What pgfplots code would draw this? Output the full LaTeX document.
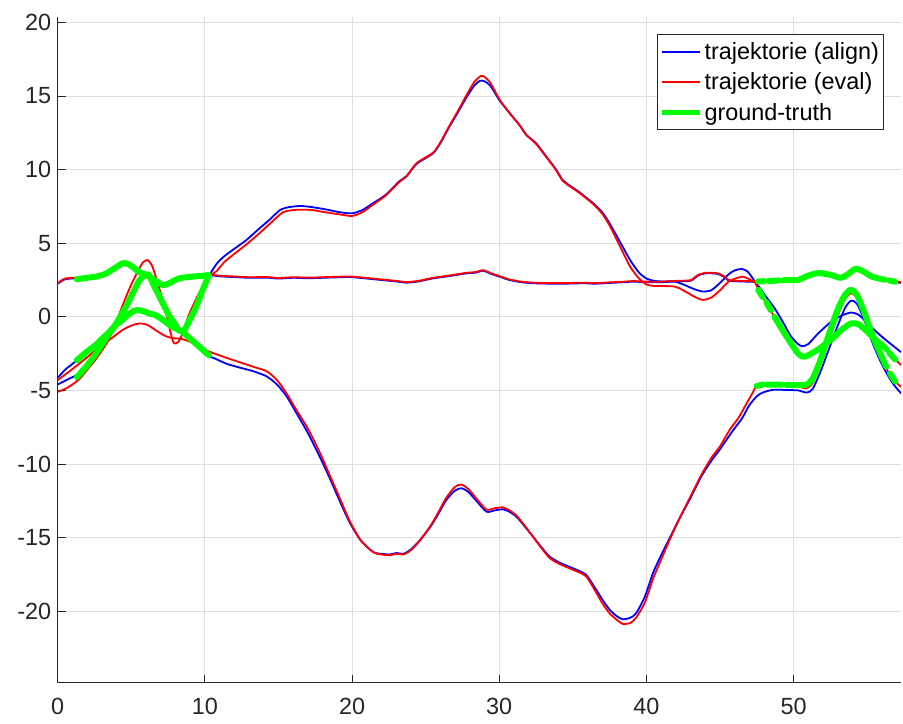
\documentclass[border=0pt]{standalone}
\usepackage{fontspec}
\setmainfont{Liberation Sans}
\usepackage{pgfplots}
\pgfplotsset{compat=1.18}
\definecolor{axgray}{RGB}{38,38,38}
\definecolor{gridgray}{RGB}{223,223,223}
\definecolor{mblue}{RGB}{0,0,255}
\definecolor{mred}{RGB}{255,0,0}
\definecolor{mgreen}{RGB}{0,255,0}
\begin{document}
\begin{tikzpicture}
\useasboundingbox (-57.7bp,-41.3bp) rectangle (845.3bp,682.7bp);
\begin{axis}[
 at={(0,0)}, anchor=south west,
 scale only axis, width=843.3bp, height=666bp,
 xmin=0, xmax=57.3, ymin=-24.86, ymax=20.39,
 enlargelimits=false,
 axis x line=bottom, axis y line=left,
 axis line style={-, draw=axgray, line width=0.8bp},
 xtick={0,10,...,50}, ytick={-20,-15,...,20},
 tick align=inside, major tick length=8bp,
 tick style={draw=axgray, line width=0.8bp},
 grid=major, major grid style={draw=gridgray, line width=0.8bp},
 ticklabel style={font=\fontsize{23.5}{27}\selectfont, text=axgray},
 /pgf/number format/assume math mode=true,
 yticklabel style={xshift=-3bp},
 xticklabel style={yshift=-12bp},
 legend style={at={(0.979,0.974)}, anchor=north east, draw=axgray, line width=0.8bp,
   fill=white, font=\fontsize{23.5}{27}\selectfont, inner xsep=2bp, inner ysep=6bp,
   row sep=8bp, cells={anchor=west}, nodes={inner sep=2bp}, text=black},
 legend image code/.code={\draw[#1] (0bp,0bp) -- (38bp,0bp);},
 unbounded coords=jump,
 every axis plot/.append style={line join=round},
]
\addlegendimage{mblue, line width=1.8bp}
\addlegendentry{trajektorie (align)}
\addlegendimage{mred, line width=1.8bp}
\addlegendentry{trajektorie (eval)}
\addlegendimage{mgreen, line width=5.5bp}
\addlegendentry{ground-truth}
% ---------------- align (blue) ----------------
\addplot[mblue, line width=1.8bp, smooth, tension=0.4, forget plot] coordinates {
(0,-4.6)(0.5,-4.35)(1.0,-4.1)(1.5,-3.85)(2.0,-3.3)(2.5,-2.6)(3.0,-1.85)(3.5,-1.15)(3.9,-0.55)
(4.3,0.2)(4.7,0.95)(5.1,1.8)(5.5,2.45)(5.9,2.85)(6.2,2.8)(6.5,2.2)(6.9,1.4)(7.3,0.6)(7.7,-0.1)
(8.1,-0.75)(8.5,-1.05)(8.8,-0.6)(9.1,0.0)(9.5,0.9)(9.9,1.8)(10.3,2.8)(10.8,3.6)(11.3,4.1)(11.9,4.55)
(12.8,5.2)(13.7,6.0)(14.4,6.6)(15.1,7.25)(15.7,7.45)(16.5,7.53)(17.3,7.45)(18.2,7.3)(19.2,7.1)
(20.0,7.03)(20.7,7.25)(21.4,7.7)(22.3,8.3)(23.2,9.2)(23.7,9.55)(24.4,10.4)(25.5,11.1)(26.0,11.8)
(26.6,12.9)(27.2,13.9)(27.8,14.95)(28.3,15.7)(28.7,16.04)(29.0,16.0)(29.4,15.7)(30.0,14.73)
(30.5,14.1)(30.9,13.6)(31.4,13.0)(31.85,12.35)(32.5,11.8)(33.2,10.88)(33.8,10.1)(34.3,9.3)
(34.6,9.05)(35.4,8.5)(36.4,7.7)(37.0,7.1)(37.5,6.35)(38.2,5.1)(38.9,3.85)(39.5,3.0)(40.0,2.6)
(40.5,2.45)(41.0,2.4)(41.9,2.4)(42.5,2.2)(43.2,1.9)(43.8,1.72)(44.4,1.8)(45.0,2.3)(45.6,2.9)
(46.0,3.15)(46.5,3.25)(46.9,3.05)(47.3,2.5)(47.6,2.1)(48.1,1.4)(48.7,0.6)(49.3,-0.4)(49.8,-1.3)
(50.3,-1.85)(50.6,-2.0)(51.0,-1.85)(51.7,-1.1)(52.6,-0.3)(53.3,0.1)(53.9,0.29)(54.4,0.15)
(55.0,-0.4)(55.6,-1.0)(56.3,-1.6)(57.3,-2.4)};
\addplot[mblue, line width=1.8bp, smooth, tension=0.4, forget plot] coordinates {
(0,2.25)(0.5,2.55)(1.3,2.62)(2.0,2.65)(2.6,2.75)(3.1,2.9)(3.5,3.05)(4.0,3.4)(4.4,3.63)(4.7,3.7)
(5.07,3.41)(5.4,3.15)(5.75,2.95)(6.1,2.75)(6.42,2.55)(6.8,2.3)(7.1,2.16)(7.55,2.27)(7.9,2.45)
(8.23,2.6)(8.7,2.7)(9.14,2.73)(9.7,2.78)(10.26,2.84)(11,2.75)(12,2.7)(13,2.65)(14.2,2.66)(15,2.6)
(16,2.65)(17,2.62)(18,2.65)(19,2.68)(19.85,2.7)(21,2.6)(22,2.5)(23,2.4)(23.7,2.32)(24.5,2.4)
(25.5,2.61)(26.5,2.75)(27.77,2.95)(28.4,3.0)(28.9,3.13)(29.5,2.9)(30.1,2.7)(30.7,2.5)(31.5,2.35)
(32.3,2.28)(33.5,2.25)(34.5,2.25)(35.7,2.28)(36.5,2.25)(37.5,2.3)(38.5,2.35)(39.1,2.39)(40,2.35)
(41,2.35)(42,2.4)(43,2.45)(43.5,2.8)(44.0,2.95)(44.5,2.95)(44.9,2.9)(45.3,2.7)(45.6,2.45)
(46.5,2.4)(47.4,2.38)(48.5,2.45)(49.5,2.5)(50.3,2.5)(51.0,2.8)(51.7,2.97)(52.5,2.85)(53.2,2.65)
(53.7,2.9)(54.2,3.26)(54.7,3.1)(55.3,2.74)(56.0,2.55)(56.6,2.45)(57.3,2.3)};
\addplot[mblue, line width=1.8bp, smooth, tension=0.4, forget plot] coordinates {
(0,-4.15)(0.5,-3.6)(1.0,-3.2)(1.5,-2.8)(2.0,-2.35)(2.6,-1.9)(3.1,-1.45)(3.5,-1.05)(4.0,-0.6)
(4.4,-0.25)(4.8,0.1)(5.2,0.35)(5.6,0.42)(6.0,0.3)(6.6,0.05)(7.2,-0.35)(7.8,-0.7)(8.4,-1.0)
(8.9,-1.4)(9.4,-1.85)(9.9,-2.4)(10.3,-2.7)(10.6,-2.8)(11.5,-3.2)(12.4,-3.46)(13.3,-3.7)(14.2,-4.05)
(14.9,-4.6)(15.55,-5.4)(16.2,-6.5)(17,-7.9)(17.8,-9.5)(18.5,-11.0)(19.2,-12.6)(19.85,-14.0)
(20.6,-15.2)(21.45,-16.0)(22.0,-16.1)(22.57,-16.15)(23.0,-16.05)(23.5,-16.1)(24.0,-15.8)
(24.6,-15.2)(25.3,-14.3)(25.8,-13.5)(26.4,-12.45)(27.0,-11.8)(27.44,-11.65)(27.9,-11.9)
(28.45,-12.5)(29.13,-13.24)(29.7,-13.15)(30.26,-13.08)(30.7,-13.25)(31.17,-13.58)(31.7,-14.2)
(32.3,-14.94)(32.9,-15.7)(33.43,-16.3)(34.1,-16.7)(34.8,-17.0)(35.4,-17.25)(35.92,-17.54)
(36.6,-18.56)(37.0,-19.2)(37.5,-19.9)(38.0,-20.35)(38.4,-20.55)(38.9,-20.45)(39.3,-20.15)
(39.9,-19.0)(40.45,-17.4)(41.0,-16.2)(41.6,-15.0)(42.3,-13.6)(43.0,-12.3)(43.7,-10.9)(44.4,-9.8)
(45.0,-9.0)(45.9,-7.7)(46.5,-6.9)(47.0,-6.0)(47.5,-5.4)(47.9,-5.15)(48.6,-4.96)(49.5,-4.97)
(50.3,-5.0)(50.9,-5.15)(51.3,-4.9)(51.8,-3.8)(52.4,-2.2)(53.0,-0.6)(53.5,0.6)(53.9,1.1)(54.3,0.9)
(54.8,-0.2)(55.3,-1.6)(55.8,-2.8)(56.3,-3.8)(56.8,-4.6)(57.3,-5.2)};
% ---------------- eval (red) ----------------
\addplot[mred, line width=1.8bp, smooth, tension=0.4, forget plot] coordinates {
(0,-5.1)(0.5,-4.9)(1.0,-4.6)(1.5,-4.2)(2.0,-3.6)(2.5,-3.0)(3.0,-2.3)(3.5,-1.5)(4.0,-0.3)(4.5,1.0)
(5.0,2.2)(5.5,3.2)(5.8,3.7)(6.1,3.86)(6.4,3.5)(6.7,2.6)(7.0,1.6)(7.35,0.3)(7.65,-1.0)(7.9,-1.8)
(8.2,-1.7)(8.5,-1.1)(8.9,0.1)(9.5,1.4)(10.0,2.3)(10.5,2.9)(10.8,3.1)(11.3,3.7)(11.9,4.2)(12.8,4.9)
(13.7,5.67)(14.5,6.4)(15.3,7.1)(16.0,7.25)(16.5,7.28)(17.3,7.25)(18.2,7.1)(19.2,6.95)(20.0,6.85)
(20.7,7.1)(21.4,7.6)(22.3,8.25)(23.2,9.15)(23.7,9.55)(24.4,10.45)(25.5,11.15)(26.0,11.85)
(26.6,12.95)(27.2,14.0)(27.8,15.1)(28.3,15.95)(28.75,16.36)(29.0,16.3)(29.4,15.9)(30.0,14.8)
(30.5,14.1)(30.9,13.6)(31.4,13.0)(31.85,12.35)(32.5,11.75)(33.2,10.85)(33.8,10.05)(34.3,9.25)
(34.6,9.0)(35.4,8.45)(36.4,7.65)(37.0,7.0)(37.5,6.2)(38.2,4.8)(38.9,3.4)(39.5,2.6)(40.0,2.2)
(40.5,2.1)(41.9,2.06)(42.5,1.8)(43.2,1.4)(43.8,1.15)(44.4,1.3)(45.0,1.8)(45.6,2.4)(46.2,2.65)
(46.6,2.73)(47.0,2.55)(47.4,2.3)(47.6,1.85)(48.1,1.0)(48.7,0.0)(49.5,-1.3)(50.3,-2.45)(50.6,-2.7)
(51.0,-2.6)(51.7,-2.15)(52.6,-1.5)(53.3,-0.85)(53.9,-0.5)(54.4,-0.55)(55.0,-1.0)(55.6,-1.6)
(56.2,-2.1)(56.7,-2.7)(57.3,-3.28)};
\addplot[mred, line width=1.8bp, smooth, tension=0.4, forget plot] coordinates {
(0,2.3)(0.5,2.6)(1.3,2.66)(2.0,2.69)(2.6,2.79)(3.1,2.94)(3.5,3.1)(4.0,3.45)(4.4,3.68)(4.7,3.75)
(5.07,3.45)(5.4,3.2)(5.75,3.0)(6.1,2.8)(6.42,2.6)(6.8,2.34)(7.1,2.2)(7.55,2.31)(7.9,2.49)
(8.23,2.64)(8.7,2.74)(9.14,2.77)(9.7,2.82)(10.26,2.88)(11,2.79)(12,2.74)(13,2.69)(14.2,2.7)(15,2.64)
(16,2.69)(17,2.66)(18,2.69)(19,2.72)(19.85,2.74)(21,2.64)(22,2.54)(23,2.44)(23.7,2.36)(24.5,2.44)
(25.5,2.65)(26.5,2.79)(27.77,2.99)(28.4,3.04)(28.9,3.17)(29.5,2.94)(30.1,2.74)(30.7,2.54)(31.5,2.39)
(32.3,2.32)(33.5,2.29)(34.5,2.29)(35.7,2.32)(36.5,2.29)(37.5,2.34)(38.5,2.39)(39.1,2.43)(40,2.39)
(41,2.39)(42,2.44)(43,2.49)(43.5,2.84)(44.0,2.99)(44.5,2.99)(44.9,2.94)(45.3,2.74)(45.6,2.49)
(46.5,2.44)(47.4,2.42)(48.5,2.49)(49.5,2.54)(50.3,2.54)(51.0,2.84)(51.7,3.01)(52.5,2.89)(53.2,2.69)
(53.7,2.94)(54.2,3.3)(54.7,3.14)(55.3,2.78)(56.0,2.59)(56.6,2.49)(57.3,2.34)};
\addplot[mred, line width=1.8bp, smooth, tension=0.4, forget plot] coordinates {
(0,-4.3)(1.0,-3.55)(2.0,-2.75)(3.0,-1.9)(3.6,-1.5)(4.4,-0.9)(5.0,-0.6)(5.56,-0.45)(6.1,-0.55)
(6.64,-0.9)(7.3,-1.3)(7.8,-1.45)(8.4,-1.5)(9.0,-1.7)(9.6,-2.05)(10.26,-2.35)(10.8,-2.55)(11.5,-2.8)
(12.4,-3.1)(13.3,-3.4)(14.2,-3.7)(14.9,-4.3)(15.55,-5.2)(16.2,-6.3)(17,-7.6)(17.8,-9.2)(18.5,-10.8)
(19.2,-12.4)(19.85,-13.9)(20.6,-15.2)(21.45,-16.0)(22.0,-16.15)(22.57,-16.2)(23.0,-16.1)
(23.5,-16.15)(24.0,-15.85)(24.6,-15.2)(25.3,-14.25)(25.8,-13.4)(26.4,-12.3)(27.0,-11.55)
(27.44,-11.4)(27.9,-11.7)(28.45,-12.35)(29.13,-13.1)(29.7,-13.0)(30.26,-12.95)(30.7,-13.15)
(31.17,-13.5)(31.7,-14.15)(32.3,-14.95)(32.9,-15.75)(33.43,-16.4)(34.1,-16.8)(34.8,-17.1)
(35.4,-17.35)(35.92,-17.65)(36.6,-18.75)(37.0,-19.45)(37.5,-20.15)(38.0,-20.6)(38.4,-20.87)
(38.9,-20.8)(39.3,-20.45)(39.9,-19.4)(40.45,-17.8)(41.0,-16.5)(41.6,-15.1)(42.3,-13.6)(43.0,-12.2)
(43.7,-10.8)(44.4,-9.6)(45.0,-8.8)(45.65,-7.7)(46.3,-6.8)(46.8,-5.9)(47.2,-5.2)(47.46,-4.75)
(48.0,-4.6)(48.6,-4.65)(49.5,-4.7)(50.3,-4.75)(50.9,-4.85)(51.3,-4.5)(51.8,-3.3)(52.4,-1.6)
(53.0,0.1)(53.5,1.2)(53.9,1.6)(54.3,1.3)(54.8,0.1)(55.3,-1.3)(55.8,-2.5)(56.3,-3.5)(56.8,-4.3)
(57.3,-4.75)};
% ---------------- ground truth (green) ----------------
\addplot[mgreen, line width=6bp, line cap=round, smooth, tension=0.4, forget plot] coordinates {
(1.3,-4.1)(2.0,-3.3)(2.6,-2.5)(3.2,-1.6)(3.9,-0.56)(4.3,0.1)(4.7,0.8)(5.1,1.6)(5.5,2.39)(5.9,2.85)
(6.2,2.84)(6.5,2.2)(6.86,1.48)(7.2,0.8)(7.55,0.12)(7.9,-0.4)(8.23,-0.9)(8.55,-1.0)(8.9,-0.33)
(9.36,0.57)(9.8,1.7)(10.26,2.8)
(10.3,nan)
(47.6,1.83)(47.9,1.35)(48.0,nan)(48.15,1.0)(48.45,0.45)(48.55,nan)(48.7,0.0)(49.5,-1.3)(50.3,-2.49)
(50.7,-2.72)(51.2,-2.5)(51.7,-2.2)(52.6,-1.5)(53.3,-0.85)(53.9,-0.45)(54.4,-0.5)(55.0,-1.0)
(55.5,-1.5)(56.1,-2.0)(56.3,-2.2)(56.35,nan)(56.5,-2.45)(56.9,-2.9)};
\addplot[mgreen, line width=6bp, line cap=round, smooth, tension=0.4, forget plot] coordinates {
(1.3,2.55)(2.0,2.65)(2.6,2.73)(3.2,2.9)(3.5,3.07)(4.04,3.41)(4.38,3.63)(4.7,3.62)(5.07,3.41)
(5.5,3.05)(5.75,2.95)(6.42,2.61)(7.1,2.16)(7.55,2.27)(8.23,2.61)(9.14,2.73)(9.8,2.78)(10.26,2.84)
(10.3,nan)
(47.6,2.4)(48.0,2.42)(48.1,nan)(48.3,2.43)(49.0,2.47)(49.1,nan)(49.3,2.48)(49.5,2.5)(50.3,2.5)
(51.0,2.8)(51.7,2.97)(52.5,2.85)(53.2,2.65)(53.7,2.9)(54.2,3.26)(54.7,3.1)(55.3,2.74)(56.0,2.55)
(56.2,2.52)(56.3,nan)(56.5,2.47)(56.9,2.38)};
\addplot[mgreen, line width=6bp, line cap=round, smooth, tension=0.4, forget plot] coordinates {
(1.3,-2.95)(2.0,-2.35)(2.58,-1.92)(3.0,-1.5)(3.48,-1.06)(3.9,-0.6)(4.38,-0.22)(4.8,0.15)(5.2,0.4)
(5.5,0.46)(5.9,0.35)(6.3,0.2)(6.64,0.12)(7.2,-0.25)(7.77,-0.67)(8.45,-1.0)(8.9,-1.4)(9.36,-1.8)
(9.8,-2.2)(10.26,-2.6)
(10.3,nan)
(47.5,-4.7)(47.9,-4.6)(48.0,nan)(48.2,-4.6)(48.6,-4.6)(49.2,-4.61)(49.3,nan)(49.5,-4.62)(50.3,-4.65)
(50.9,-4.6)(51.3,-4.2)(51.8,-3.0)(52.4,-1.2)(53.0,0.5)(53.5,1.5)(53.9,1.83)(54.3,1.5)(54.8,0.3)
(55.3,-1.1)(55.8,-2.3)(56.3,-3.4)(56.4,nan)(56.55,-3.85)(56.9,-4.4)};
\end{axis}
\end{tikzpicture}
\end{document}
